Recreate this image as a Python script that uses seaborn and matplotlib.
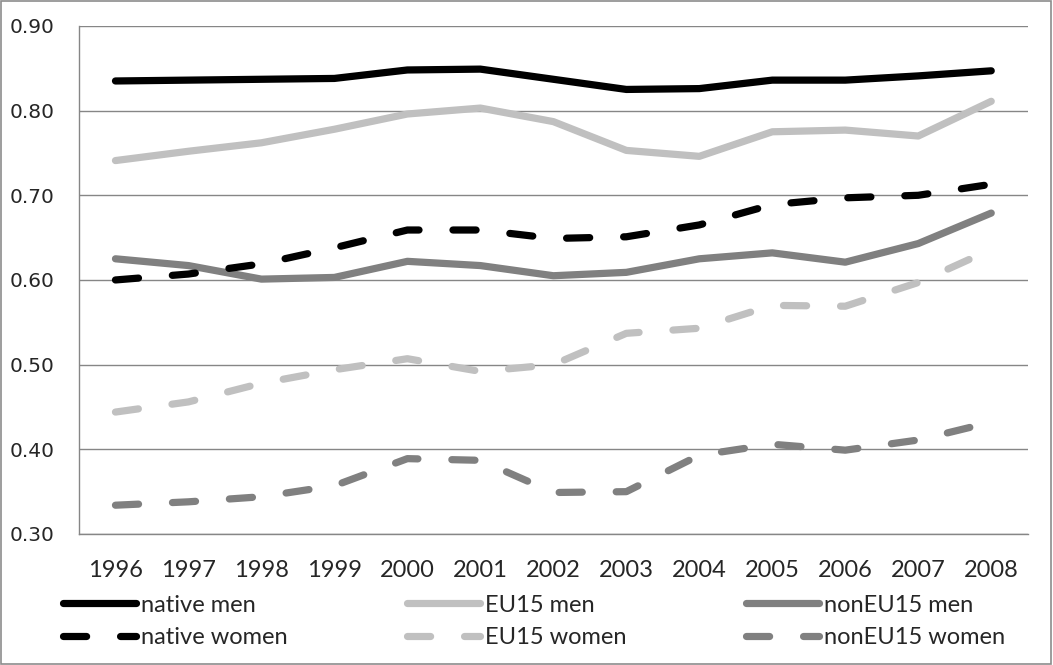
import matplotlib
matplotlib.use("Agg")
import matplotlib.pyplot as plt
from matplotlib.lines import Line2D
from matplotlib.patches import Rectangle
import numpy as np
import pandas as pd
import seaborn as sns

years = ["1996", "1997", "1998", "1999", "2000", "2001", "2002",
         "2003", "2004", "2005", "2006", "2007", "2008"]

native_men = [0.835, 0.836, 0.837, 0.838, 0.848, 0.849, 0.837,
              0.825, 0.826, 0.836, 0.836, 0.841, 0.847]
eu15_men = [0.741, 0.752, 0.762, 0.778, 0.796, 0.803, 0.787,
            0.753, 0.746, 0.775, 0.777, 0.770, 0.811]
noneu15_men = [0.625, 0.617, 0.601, 0.603, 0.622, 0.617, 0.605,
               0.609, 0.625, 0.632, 0.621, 0.643, 0.679]
native_women = [0.600, 0.607, 0.619, 0.638, 0.659, 0.659, 0.649,
                0.651, 0.665, 0.689, 0.697, 0.700, 0.713]
eu15_women = [0.444, 0.456, 0.478, 0.494, 0.507, 0.492, 0.500,
              0.537, 0.543, 0.570, 0.569, 0.597, 0.636]
noneu15_women = [0.334, 0.338, 0.344, 0.357, 0.389, 0.387, 0.349,
                 0.350, 0.393, 0.406, 0.399, 0.411, 0.432]

series_names = ["native men", "EU15 men", "nonEU15 men",
                "native women", "EU15 women", "nonEU15 women"]
series_values = [native_men, eu15_men, noneu15_men,
                 native_women, eu15_women, noneu15_women]

BLACK, LIGHT, MID = "#000000", "#C0C0C0", "#808080"
palette = dict(zip(series_names, [BLACK, LIGHT, MID, BLACK, LIGHT, MID]))
DASH = (3.2, 4.7)
dashes = {n: (DASH if n.endswith("women") else "") for n in series_names}

rows = []
for name, vals in zip(series_names, series_values):
    for i, v in enumerate(vals):
        rows.append({"series": name, "pos": i, "value": v})
df = pd.DataFrame(rows)

sns.set_style("white")
label_font = ["Lato", "DejaVu Sans"]

fig = plt.figure(figsize=(10.53, 6.65), dpi=100)
ax = fig.add_axes([0.075, 0.197, 0.901, 0.764])

LW = 5.2
sns.lineplot(data=df, x="pos", y="value", hue="series", style="series",
             hue_order=series_names, style_order=series_names,
             palette=palette, dashes=dashes, linewidth=LW, legend=False, ax=ax)
for ln in ax.get_lines():
    ln.set_solid_capstyle("round")
    ln.set_dash_capstyle("round")
    ln.set_solid_joinstyle("round")
    ln.set_dash_joinstyle("round")

GRID = "#868686"
yticks = np.arange(0.30, 0.901, 0.10)
ax.set_xlim(-0.5, len(years) - 0.5)
ax.set_ylim(0.30, 0.90)
ax.set_yticks(yticks)
ax.set_yticklabels([f"{v:.2f}" for v in yticks], fontsize=14.5, family="DejaVu Sans")
ax.set_xticks(range(len(years)))
ax.set_xticklabels(years, fontsize=17, family=label_font)
ax.set_xticks(np.arange(-0.5, len(years), 1.0), minor=True)
ax.tick_params(axis="x", which="major", length=0, pad=19)
ax.tick_params(axis="x", which="minor", length=7, color=GRID, width=1, direction="out")
ax.tick_params(axis="y", which="major", length=7, color=GRID, width=1,
               direction="out", pad=10.5)
ax.yaxis.grid(True, color=GRID, linewidth=1.0)
ax.set_axisbelow(True)
for s in ["top", "right"]:
    ax.spines[s].set_visible(False)
for s in ["left", "bottom"]:
    ax.spines[s].set_color(GRID)
    ax.spines[s].set_linewidth(1.0)
ax.set_xlabel("")
ax.set_ylabel("")

# legend laid out row by row: men on the first row, women on the second
legend_order = ["native men", "native women", "EU15 men", "EU15 women",
                "nonEU15 men", "nonEU15 women"]
handles = []
for name in legend_order:
    if dashes[name]:
        h = Line2D([], [], color=palette[name], linewidth=LW, dashes=dashes[name],
                   dash_capstyle="round")
    else:
        h = Line2D([], [], color=palette[name], linewidth=LW, linestyle="-",
                   solid_capstyle="round")
    handles.append(h)

leg = fig.legend(handles=handles, labels=legend_order, ncol=3,
                 loc="upper left", bbox_to_anchor=(0.060, 0.106),
                 frameon=False, handlelength=3.1, handletextpad=0.2,
                 columnspacing=5.05, labelspacing=0.49, borderpad=0,
                 borderaxespad=0, prop={"family": label_font, "size": 17})

fig.patches.append(Rectangle((0.0005, 0.0008), 0.998, 0.998, transform=fig.transFigure,
                             fill=False, edgecolor="#8C8C8C", linewidth=1.2))

fig.savefig("out.png", dpi=100, facecolor="white")
